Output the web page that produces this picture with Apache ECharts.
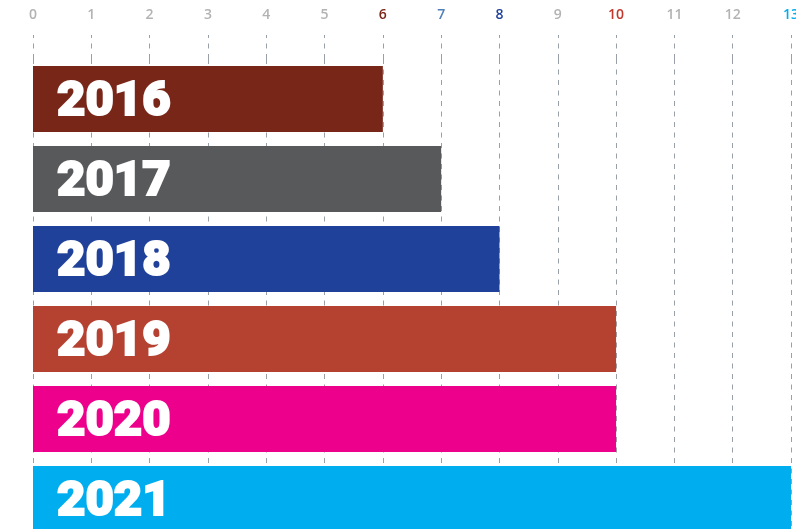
<!DOCTYPE html>
<html><head><meta charset="utf-8">
<script src="https://cdn.jsdelivr.net/npm/echarts@6/dist/echarts.min.js"></script>
<style>html,body{margin:0;padding:0;background:#fff}#c{width:796px;height:529px}</style>
</head><body><div id="c"></div>
<script>
const years = ['2016', '2017', '2018', '2019', '2020', '2021'];
const values = [6, 7, 8, 10, 10, 13];
const barColors = ['#772618', '#58595b', '#1f4199', '#b54131', '#ec008c', '#00aeef'];
const tickMin = 0, tickMax = 13, tickStep = 1;
const highlightTicks = [6, 7, 8, 10, 13];
const highlightColors = ['#7a2618', '#4f7fba', '#1f4199', '#c1382d', '#00aeef'];

const chart = echarts.init(document.getElementById('c'), null, {renderer: 'canvas'});
const dash = {color: '#9aa0a8', width: 1, type: [5, 5.5]};
chart.setOption({
  animation: false,
  backgroundColor: '#fff',
  grid: {left: 33, right: 5, top: 59, bottom: -10, containLabel: false, outerBoundsMode: 'none'},
  xAxis: {
    type: 'value', position: 'top', min: tickMin, max: tickMax, interval: tickStep,
    axisLine: {show: false},
    axisTick: {show: true, length: 24, lineStyle: dash},
    splitLine: {show: true, lineStyle: dash},
    axisLabel: {
      margin: 37, fontFamily: 'Open Sans', fontWeight: 600, fontSize: 14,
      color: function (v) {
        const i = highlightTicks.indexOf(Number(v));
        return i >= 0 ? highlightColors[i] : '#b3b3b3';
      }
    }
  },
  yAxis: {
    type: 'category', data: years, inverse: true,
    axisLine: {show: false}, axisTick: {show: false}, axisLabel: {show: false}, splitLine: {show: false}
  },
  series: [{
    type: 'bar', data: values, barWidth: 66,
    itemStyle: {color: function (p) { return barColors[p.dataIndex]; }},
    label: {
      show: true, position: 'insideLeft', distance: 24, offset: [0, 4], formatter: '{b}',
      color: '#fff', fontFamily: 'Roboto', fontWeight: 900, fontSize: 49,
      textBorderColor: '#fff', textBorderWidth: 2
    }
  }]
});
</script></body></html>
